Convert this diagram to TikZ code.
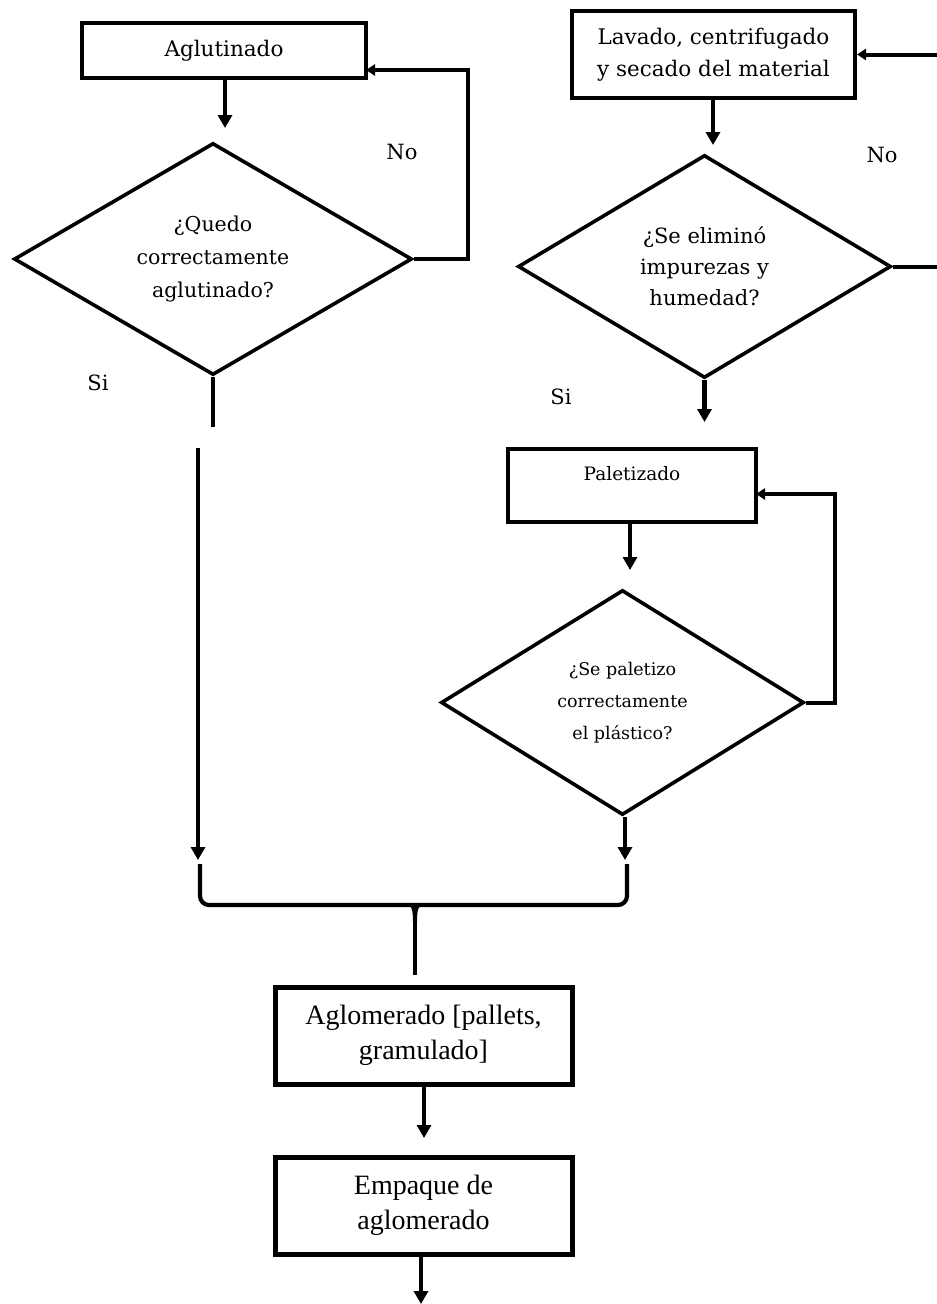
\documentclass[tikz,border=0pt]{standalone}
\usepackage{fontspec}
\setmainfont{DejaVu Serif}
\newfontfamily\libserif{Liberation Serif}
\usetikzlibrary{arrows.meta,shapes.geometric}
\tikzset{
  boxa/.style={draw, line width=4pt, rectangle, inner sep=0pt, align=center},
  boxb/.style={draw, line width=5pt, rectangle, inner sep=0pt, align=center,
    font=\libserif\fontsize{28}{35}\selectfont},
  dec/.style={draw, line width=3.6pt, diamond, aspect=1.7, inner sep=0pt, align=center},
  conn/.style={line width=4.2pt, -{Triangle[width=14pt,length=13pt]}},
  back/.style={line width=4pt, -{Triangle[width=11pt,length=9pt]}},
  plain/.style={line width=4.2pt},
  lbl/.style={font=\fontsize{21}{24}\selectfont, inner sep=0pt}
}
\begin{document}
\begin{tikzpicture}[x=1pt,y=-1pt]
\useasboundingbox (0,0) rectangle (937,1304);
\fill[white] (0,0) rectangle (937,1304);

% nodes
\node[boxa, line width=3.6pt, minimum width=284pt, minimum height=55pt,
      font=\fontsize{21.5}{32}\selectfont] (agl) at (224,50.5) {Aglutinado};
\node[dec, minimum width=398pt, minimum height=232pt,
      font=\fontsize{20.5}{33}\selectfont] (q1) at (213,259)
      {¿Quedo\\correctamente\\aglutinado?};
\node[boxa, minimum width=283pt, minimum height=87pt,
      font=\fontsize{21.5}{32}\selectfont] (lav) at (713.5,54.5)
      {Lavado, centrifugado\\y secado del material};
\node[dec, minimum width=373pt, minimum height=223pt,
      font=\fontsize{21}{31}\selectfont] (q2) at (704.5,266.5)
      {¿Se eliminó\\impurezas y\\humedad?};
\node[boxa, minimum width=248pt, minimum height=73pt,
      font=\fontsize{18.5}{30}\selectfont] (pal) at (632,485.5) {Paletizado\\[-6pt]\mbox{}};
\node[dec, minimum width=363pt, minimum height=225pt,
      font=\fontsize{17.5}{32}\selectfont] (q3) at (622.5,702.5)
      {¿Se paletizo\\correctamente\\el plástico?};
\node[boxb, minimum width=297pt, minimum height=97pt] (aglo) at (423.5,1035.5)
      {Aglomerado [pallets,\\gramulado]};
\node[boxb, minimum width=297pt, minimum height=97pt] (emp) at (423.5,1205.5)
      {Empaque de\\aglomerado};

% labels
\node[lbl] (no1) at (402,152) {No};
\node[lbl] (si1) at (98,383) {Si};
\node[lbl] (no2) at (882,155) {No};
\node[lbl] (si2) at (561,397) {Si};

% coordinates
\coordinate (t1) at (225,128);
\coordinate (r1) at (468,262);
\coordinate (e1) at (366,70);
\coordinate (s1) at (214,427);
\coordinate (s1b) at (198,448);
\coordinate (t1b) at (198,860);
\coordinate (t2) at (713,145);
\coordinate (r2) at (960,267);
\coordinate (t3) at (706,422);
\coordinate (t4) at (630,570);
\coordinate (r3) at (835,703);
\coordinate (e3) at (756,494);
\coordinate (t5) at (625,860);
\coordinate (bl) at (200,864);
\coordinate (br) at (627,864);
\coordinate (bm) at (415,905);
\coordinate (bmend) at (415,975);
\coordinate (t6) at (424,1138);
\coordinate (t7) at (421,1304);

% connectors
\draw[conn] (agl.south -| t1) -- (t1);
\draw[back] (q1.east) -- (q1.east -| r1) |- (e1);
\draw[plain] (q1.south) -- (q1.south |- s1);
\draw[conn] (s1b) -- (t1b);

\draw[conn] (lav.south -| t2) -- (t2);
\draw[back] (q2.east) -- (q2.east -| r2) |- (lav.east);
\draw[conn] (q2.south) -- (q2.south |- t3);

\draw[conn] (pal.south -| t4) -- (t4);
\draw[back] (q3.east) -- (q3.east -| r3) |- (e3);
\draw[conn] (q3.south -| t5) -- (t5);

% merge bracket
\draw[plain, rounded corners=9pt] (bl) -- (bl |- bm) -- (br |- bm) -- (br);
\draw[plain] (bm) -- (bmend);
\fill (404,903) .. controls (412,904) and (413,910) .. (413,922)
      -- (417,922) .. controls (417,910) and (418,904) .. (426,903) -- cycle;

\draw[conn] (aglo.south -| t6) -- (t6);
\draw[conn] (emp.south -| t7) -- (t7);
\end{tikzpicture}
\end{document}
